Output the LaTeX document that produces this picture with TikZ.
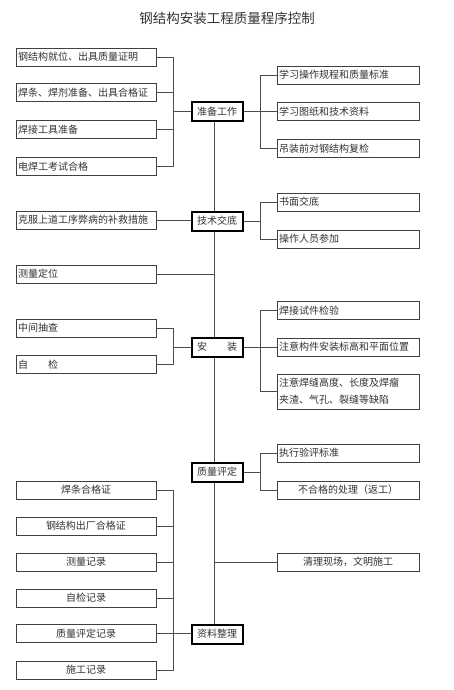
\documentclass[tikz,border=0pt]{standalone}
\usepackage{fontspec}
\newfontfamily\cjk{Noto Sans CJK SC}
\tikzset{
	lbox/.style={draw=black!75, line width=0.6pt, fill=white, minimum height=18pt, inner xsep=2pt, inner ysep=0pt, text width=136pt, align=left, text=black!80, font=\cjk\fontsize{10}{17}\selectfont},
	rbox/.style={lbox, text width=138pt},
	cbox/.style={draw=black, line width=2pt, fill=white, minimum width=51pt, minimum height=19pt, inner sep=0pt, text=black!80, font=\cjk\fontsize{10}{12}\selectfont},
	link/.style={draw=black!70, line width=0.7pt}
}
\begin{document}
\begin{tikzpicture}[x=1pt, y=-1pt]
	%%%%% START %%%%%
	\useasboundingbox (0,0) rectangle (453,690);
	
	\node[text=black!80, font=\cjk\fontsize{13.5}{16}\selectfont] (title) at (227,18) {钢结构安装工程质量程序控制};
	
	\coordinate (lx) at (173,0);
	\coordinate (rx) at (260.5,0);
	\coordinate (sp) at (214,0);
	
	% main steps
	\node[cbox] (zb) at (217,111.5) {准备工作};
	\node[cbox] (js) at (217,221) {技术交底};
	\node[cbox] (az) at (217,347) {安\hspace{2em}装};
	\node[cbox] (zl) at (217,472) {质量评定};
	\node[cbox] (zz) at (217,634) {资料整理};
	
	% left column
	\node[lbox] (gjw) at (86,57) {钢结构就位、出具质量证明};
	\node[lbox] (htz) at (86,92.5) {焊条、焊剂准备、出具合格证};
	\node[lbox] (hjg) at (86,129.5) {焊接工具准备};
	\node[lbox] (dhg) at (86,166.5) {电焊工考试合格};
	\node[lbox] (kfs) at (86,220) {克服上道工序弊病的补救措施};
	\node[lbox] (cld) at (86,274) {测量定位};
	\node[lbox] (zjc) at (86,328) {中间抽查};
	\node[lbox] (zij) at (86,364.5) {自\hspace{2em}检};
	\node[lbox, align=center] (htg) at (86,490) {焊条合格证};
	\node[lbox, align=center] (gcc) at (86,526) {钢结构出厂合格证};
	\node[lbox, align=center] (cjl) at (86,562) {测量记录};
	\node[lbox, align=center] (zjl) at (86,598) {自检记录};
	\node[lbox, align=center] (zpl) at (86,633.5) {质量评定记录};
	\node[lbox, align=center] (sgl) at (86,670) {施工记录};
	
	% right column
	\node[rbox] (xcz) at (348,75) {学习操作规程和质量标准};
	\node[rbox] (xtz) at (348,111.5) {学习图纸和技术资料};
	\node[rbox] (dzq) at (348,148.5) {吊装前对钢结构复检};
	\node[rbox] (smj) at (348,202) {书面交底};
	\node[rbox] (czr) at (348,239) {操作人员参加};
	\node[rbox] (hsj) at (348,310.5) {焊接试件检验};
	\node[rbox] (zgj) at (348,347) {注意构件安装标高和平面位置};
	\node[rbox, minimum height=35pt] (zhf) at (348,391.5) {注意焊缝高度、长度及焊瘤\\夹渣、气孔、裂缝等缺陷};
	\node[rbox] (zyb) at (348,453) {执行验评标准};
	\node[rbox, align=center] (bhg) at (348,490) {不合格的处理（返工）};
	\node[rbox, align=center] (qlx) at (348,562) {清理现场，文明施工};
	
	% spine
	\draw[link] (zb.south -| sp) -- (js.north -| sp);
	\draw[link] (js.south -| sp) -- (az.north -| sp);
	\draw[link] (az.south -| sp) -- (zl.north -| sp);
	\draw[link] (zl.south -| sp) -- (zz.north -| sp);
	
	% 准备工作
	\draw[link] (gjw.east) -- (gjw.east -| lx) -- (dhg.east -| lx) -- (dhg.east);
	\draw[link] (htz.east) -- (htz.east -| lx);
	\draw[link] (hjg.east) -- (hjg.east -| lx);
	\draw[link] (zb.west -| lx) -- (zb.west);
	\draw[link] (xcz.west) -- (xcz.west -| rx) -- (dzq.west -| rx) -- (dzq.west);
	\draw[link] (zb.east) -- (xtz.west);
	
	% 技术交底
	\draw[link] (kfs.east) -- (kfs.east -| js.west);
	\draw[link] (smj.west) -- (smj.west -| rx) -- (czr.west -| rx) -- (czr.west);
	\draw[link] (js.east) -- (js.east -| rx);
	\draw[link] (cld.east) -- (cld.east -| sp);
	
	% 安装
	\draw[link] (zjc.east) -- (zjc.east -| lx) -- (zij.east -| lx) -- (zij.east);
	\draw[link] (az.west -| lx) -- (az.west);
	\draw[link] (hsj.west) -- (hsj.west -| rx) -- (zhf.west -| rx) -- (zhf.west);
	\draw[link] (az.east) -- (zgj.west);
	
	% 质量评定
	\draw[link] (zyb.west) -- (zyb.west -| rx) -- (bhg.west -| rx) -- (bhg.west);
	\draw[link] (zl.east) -- (zl.east -| rx);
	\draw[link] (qlx.west) -- (qlx.west -| sp);
	
	% 资料整理
	\draw[link] (htg.east) -- (htg.east -| lx) -- (sgl.east -| lx) -- (sgl.east);
	\draw[link] (gcc.east) -- (gcc.east -| lx);
	\draw[link] (cjl.east) -- (cjl.east -| lx);
	\draw[link] (zjl.east) -- (zjl.east -| lx);
	\draw[link] (zpl.east) -- (zpl.east -| zz.west);
	
	%%%%% END %%%%%
\end{tikzpicture}
\end{document}
